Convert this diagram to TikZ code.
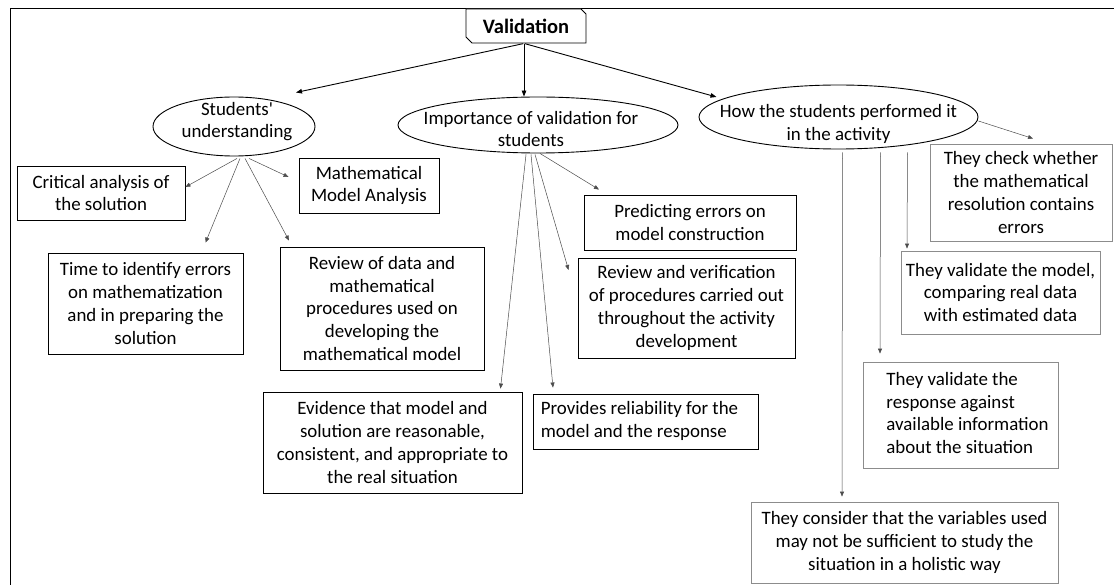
\documentclass[tikz,border=0pt]{standalone}
\usepackage{fontspec}
\setmainfont{Carlito}[Ligatures=TeXOff]
\usetikzlibrary{arrows.meta,shapes.geometric}
\newcommand\fs{\fontsize{18.9}{22.7}\selectfont}
\begin{document}
\begin{tikzpicture}[x=1pt,y=-1pt,
  box/.style={draw=black, line width=0.9pt, rectangle, align=center, inner sep=2pt, font=\fs},
  gbox/.style={box, draw=black!45},
  ell/.style={draw=black, line width=0.9pt, ellipse, inner sep=0pt},
  etext/.style={font=\fs, align=center},
  toparr/.style={draw=black, line width=0.9pt, -{Triangle[length=6pt,width=4.5pt]}},
  arr/.style={draw=black!70, line width=0.5pt, -{Triangle[length=5pt,width=4pt]}}]
\useasboundingbox (0,0) rectangle (1114,585);
\fill[white] (0,0) rectangle (1114,585);
\draw[line width=0.9pt] (10,585) -- (10,8) -- (1114,8);

% root
\coordinate (vnw) at (466,9);
\coordinate (vse) at (586,43);
\draw[line width=0.9pt, fill=white] (vnw) -- (581,9) -- (586,14) -- (vse) -- (472,43) -- (466,37) -- cycle;
\node[font=\fontsize{20.5}{24}\selectfont\bfseries, inner sep=0pt, minimum width=120, minimum height=34] (val) at (526,26.5) {Validation};

% ellipses
\node[ell, minimum width=162, minimum height=59, label={[etext, xshift=3pt, yshift=5pt]center:Students'\\understanding}] (e1) at (234,126.5) {};
\node[ell, minimum width=280, minimum height=56, label={[etext, xshift=-7pt, yshift=-4pt]center:Importance of validation for\\students}] (e2) at (538,125) {};
\node[ell, minimum width=279, minimum height=64, label={[etext, yshift=-7pt]center:How the students performed it\\in the activity}] (e3) at (838.5,117) {};

% left boxes
\node[box, minimum width=168, minimum height=54] (crit) at (101,193) {Critical analysis of\\the solution};
\node[box, minimum width=140, minimum height=55] (mma) at (369,185.5) {Mathematical\\Model Analysis};
\node[box, minimum width=195, minimum height=101] (time) at (145.5,303.5) {Time to identify errors\\on mathematization\\and in preparing the\\solution};
\node[box, minimum width=204, minimum height=123] (rdata) at (382,308.5) {Review of data and\\mathematical\\procedures used on\\developing the\\mathematical model};

% middle boxes
\node[box, minimum width=212, minimum height=55] (pred) at (690,222.5) {Predicting errors on\\model construction};
\node[box, minimum width=217, minimum height=100] (rver) at (686.5,308) {Review and verification\\of procedures carried out\\throughout the activity\\development};
\node[box, minimum width=259, minimum height=101] (evid) at (392.5,442.5) {Evidence that model and\\solution are reasonable,\\consistent, and appropriate to\\the real situation};
\node[box, minimum width=225, minimum height=55] (prov) at (645.5,421.5) {\begin{tabular}{@{}l@{\hspace{12pt}}}Provides reliability for the\\model and the response\end{tabular}};

% right boxes
\node[gbox, minimum width=182, minimum height=97] (chk) at (1021,192.5) {They check whether\\the mathematical\\resolution contains\\errors};
\node[gbox, minimum width=199, minimum height=83] (vmod) at (1000.5,292.5) {They validate the model,\\comparing real data\\with estimated data};
\node[gbox, minimum width=195, minimum height=106] (vresp) at (960.5,415) {\begin{tabular}{@{\hspace{14pt}}l@{}}They validate the\\response against\\available information\\about the situation\end{tabular}};
\node[gbox, minimum width=307, minimum height=81] (cons) at (904.5,542.5) {They consider that the variables used\\may not be sufficient to study the\\situation in a holistic way};

% top connectors
\draw[toparr] ([xshift=-3pt]val.south) -- ([shift={(62,-34)}]e1.center);
\draw[toparr] ([xshift=-2pt]val.south) -- ([xshift=-2pt]val.south |- e2.north);
\draw[toparr] ([xshift=-1pt]val.south) -- ([shift={(-122,-20)}]e3.center);

% from e1
\draw[arr] ([shift={(3,2)}]e1.south) -- ([yshift=6pt]crit.east);
\draw[arr] ([shift={(6,2)}]e1.south) -- ([shift={(60,-10)}]time.north);
\draw[arr] ([shift={(11,2)}]e1.south) -- ([shift={(-93,-6)}]rdata.north);
\draw[arr] ([shift={(15,2)}]e1.south) -- ([shift={(-10,-8.5)}]mma.west);

% from e2
\draw[arr] ([shift={(-12,1)}]e2.south) -- ([shift={(108,-3)}]evid.north);
\draw[arr] ([shift={(-7,1)}]e2.south) -- ([shift={(-92.5,-6)}]prov.north);
\draw[arr] ([shift={(-3,1)}]e2.south) -- ([shift={(-9,-38)}]rver.west);
\draw[arr] ([shift={(2,0)}]e2.south) -- ([shift={(-91,-5)}]pred.north);

% from e3
\draw[arr] ([shift={(4,3)}]e3.south) -- ([shift={(-62.5,-5)}]cons.north);
\draw[arr] ([shift={(42,3)}]e3.south) -- ([shift={(-80.5,-8)}]vresp.north);
\draw[arr] ([shift={(69,3)}]e3.south) -- ([shift={(-93.5,-2)}]vmod.north);
\draw[arr] ([yshift=-4pt]e3.east) -- ([shift={(12,-5)}]chk.north);
\end{tikzpicture}
\end{document}
